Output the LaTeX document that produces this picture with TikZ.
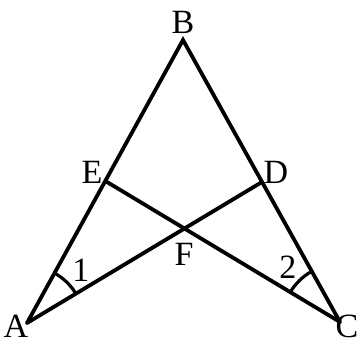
\documentclass[tikz,border=0pt]{standalone}
\usepackage{fontspec}
\setmainfont{Liberation Serif}
\usetikzlibrary{calc}
\begin{document}
\begin{tikzpicture}[x=1pt,y=-1pt,
  edge/.style={line width=3.8pt,line cap=round,line join=miter},
  anglearc/.style={line width=3.2pt},
  lbl/.style={inner sep=0pt,font=\fontsize{34}{34}\selectfont}]
\useasboundingbox (0,0) rectangle (360,339);
\coordinate (A) at (27,323);
\coordinate (B) at (183,40);
\coordinate (C) at (340,322);
\coordinate (E) at (107,182);
\coordinate (D) at (262,182);
\coordinate (F) at (184,229);
\draw[edge] (A) -- (B) -- (C);
\draw[edge] (A) -- (D);
\draw[edge] (C) -- (E);
\draw[anglearc] ($(A)!57pt!(D)$) arc[start angle=31,end angle=61,radius=57pt];
\draw[anglearc] ($(C)!58pt!(E)$) arc[start angle=149,end angle=119,radius=58pt];
\node[lbl] (lB) at (183,22) {B};
\node[lbl] (lA) at (16,326) {A};
\node[lbl] (lC) at (347,326) {C};
\node[lbl] (lE) at (92,172) {E};
\node[lbl] (lD) at (276,172) {D};
\node[lbl] (lF) at (184,254) {F};
\node[lbl] (l1) at (81,270) {1};
\node[lbl] (l2) at (288,267) {2};
\end{tikzpicture}
\end{document}
